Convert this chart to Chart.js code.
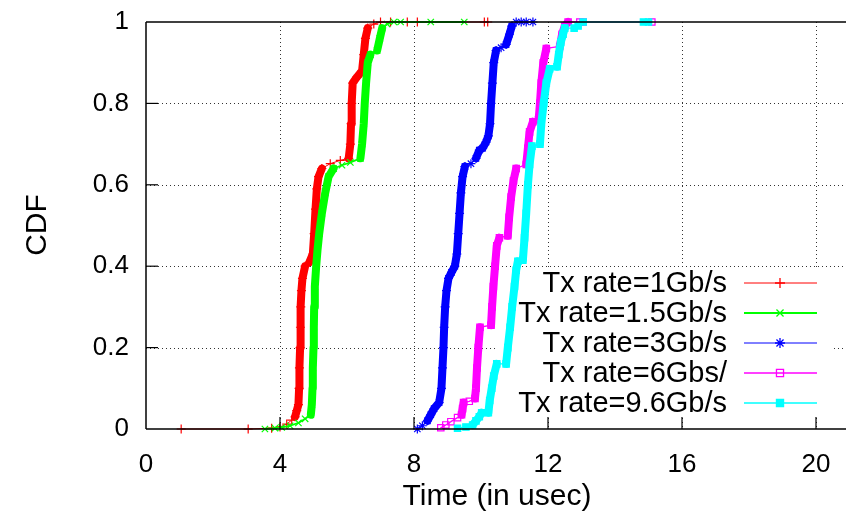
<!DOCTYPE html>
<html><head><meta charset="utf-8">
<script src="https://cdn.jsdelivr.net/npm/chart.js@4.4.0/dist/chart.umd.min.js"></script>
<style>html,body{margin:0;padding:0;overflow:hidden;background:#fff}canvas{display:block}</style>
</head><body>
<canvas id="c" width="860" height="517"></canvas>
<script>
const xTickValues = [0, 4, 8, 12, 16, 20];
const yTickValues = [0, 0.2, 0.4, 0.6, 0.8, 1];
const yTickLabels = ['0', '0.2', '0.4', '0.6', '0.8', '1'];
const seriesNames = ['Tx rate=1Gb/s', 'Tx rate=1.5Gb/s', 'Tx rate=3Gb/s', 'Tx rate=6Gbs/', 'Tx rate=9.6Gb/s'];

const rate1 = [[1.05,0],[3.05,0],[3.75,0.002],[4.0,0.005],[4.2,0.012],[4.35,0.022],[4.45,0.03],[4.5,0.045],[4.55,0.06],[4.57,0.1],[4.58,0.15],[4.6,0.2],[4.61,0.25],[4.62,0.3],[4.64,0.34],[4.67,0.37],[4.75,0.4],[4.88,0.41],[4.98,0.43],[5.02,0.48],[5.06,0.54],[5.1,0.59],[5.15,0.62],[5.25,0.64],[5.5,0.652],[5.8,0.66],[6.05,0.665],[6.1,0.7],[6.12,0.75],[6.14,0.8],[6.17,0.85],[6.3,0.865],[6.45,0.88],[6.5,0.92],[6.55,0.96],[6.62,0.985],[6.8,0.995],[7.0,1],[7.3,1],[7.8,1],[8.1,1],[10.1,1],[10.2,1]];
const rate15 = [[3.55,0],[3.85,0.002],[4.05,0.004],[4.3,0.008],[4.55,0.015],[4.75,0.025],[4.92,0.035],[4.95,0.06],[4.97,0.1],[4.98,0.15],[5.0,0.2],[5.01,0.25],[5.02,0.3],[5.04,0.35],[5.08,0.4],[5.12,0.44],[5.17,0.48],[5.25,0.53],[5.35,0.58],[5.45,0.62],[5.6,0.64],[5.85,0.648],[6.1,0.655],[6.4,0.665],[6.45,0.7],[6.5,0.75],[6.53,0.8],[6.57,0.85],[6.62,0.9],[6.7,0.92],[6.9,0.93],[6.98,0.96],[7.05,0.985],[7.2,0.995],[7.4,1],[7.6,1],[8.5,1],[9.5,1]];
const rate3 = [[8.1,0],[8.25,0.008],[8.4,0.02],[8.5,0.035],[8.6,0.05],[8.75,0.065],[8.82,0.1],[8.85,0.15],[8.88,0.2],[8.9,0.25],[8.93,0.3],[8.97,0.34],[9.03,0.37],[9.12,0.385],[9.22,0.4],[9.28,0.43],[9.32,0.48],[9.36,0.53],[9.4,0.58],[9.45,0.62],[9.52,0.645],[9.7,0.652],[9.85,0.665],[9.95,0.685],[10.05,0.69],[10.15,0.705],[10.22,0.72],[10.27,0.75],[10.3,0.8],[10.34,0.85],[10.38,0.9],[10.45,0.93],[10.6,0.937],[10.75,0.945],[10.85,0.97],[10.92,0.99],[11.05,1],[11.2,1],[11.35,1],[11.55,1]];
const rate6 = [[8.8,0.003],[8.95,0.01],[9.1,0.018],[9.3,0.028],[9.42,0.035],[9.45,0.05],[9.48,0.065],[9.65,0.068],[9.82,0.075],[9.85,0.1],[9.88,0.15],[9.92,0.2],[9.97,0.25],[10.3,0.255],[10.33,0.3],[10.37,0.35],[10.42,0.4],[10.47,0.45],[10.55,0.47],[10.8,0.475],[10.84,0.52],[10.9,0.57],[10.97,0.61],[11.05,0.64],[11.35,0.65],[11.4,0.69],[11.45,0.73],[11.55,0.755],[11.72,0.76],[11.76,0.8],[11.8,0.85],[11.86,0.9],[11.95,0.935],[12.35,0.94],[12.42,0.97],[12.5,0.99],[12.6,1],[12.95,1],[13.05,1],[15.1,1]];
const rate96 = [[9.3,0.002],[9.55,0.005],[9.75,0.01],[9.85,0.02],[9.95,0.03],[10.02,0.04],[10.22,0.04],[10.26,0.07],[10.32,0.1],[10.38,0.13],[10.47,0.16],[10.75,0.16],[10.8,0.2],[10.87,0.25],[10.93,0.3],[11.0,0.35],[11.05,0.39],[11.1,0.412],[11.25,0.415],[11.3,0.47],[11.35,0.53],[11.4,0.6],[11.45,0.65],[11.52,0.695],[11.76,0.7],[11.8,0.75],[11.87,0.8],[11.95,0.85],[12.05,0.885],[12.27,0.89],[12.32,0.92],[12.38,0.95],[12.45,0.97],[12.5,0.985],[12.78,0.985],[12.9,0.99],[13.05,1],[14.85,1],[15.0,1]];

const seriesData = [rate1, rate15, rate3, rate6, rate96];
const colors = ['#ff0000', '#00ff00', '#0000ff', '#ff00ff', '#00ffff'];
const styles = [
  {pointStyle:'cross', fill:false, lw:1, r:4.5},
  {pointStyle:'crossRot', fill:false, lw:1.8, r:4.5},
  {pointStyle:'star', fill:false, lw:1, r:4.5},
  {pointStyle:'rect', fill:false, lw:1.3, r:4.5},
  {pointStyle:'rect', fill:true, lw:1.3, r:4.5}
];
const FONT = '"Liberation Sans", Arial, Helvetica, sans-serif';

function steep(ctx) {
  const dx = Math.abs(ctx.p1.x - ctx.p0.x), dy = Math.abs(ctx.p1.y - ctx.p0.y);
  return dy > 1.2 * dx && dy > 3;
}

const datasets = seriesData.map((pts, i) => ({
  label: seriesNames[i],
  data: pts.map(p => ({x: p[0], y: p[1]})),
  borderColor: colors[i],
  backgroundColor: styles[i].fill ? colors[i] : 'rgba(0,0,0,0)',
  pointBackgroundColor: styles[i].fill ? colors[i] : 'rgba(0,0,0,0)',
  pointBorderColor: colors[i],
  pointStyle: styles[i].pointStyle,
  pointRadius: styles[i].r,
  pointBorderWidth: 1.2,
  borderWidth: styles[i].lw,
  borderCapStyle: 'round',
  borderJoinStyle: 'round',
  segment: { borderWidth: c => steep(c) ? 8 : styles[i].lw },
  tension: 0,
  fill: false,
  clip: false,
  order: 5 - i
}));

function line(ctx, x1, y1, x2, y2) { ctx.beginPath(); ctx.moveTo(x1, y1); ctx.lineTo(x2, y2); ctx.stroke(); }

const decor = {
  id: 'decor',
  beforeDatasetsDraw(chart) {
    const {ctx, chartArea: a, scales: {x, y}} = chart;
    ctx.save();
    ctx.strokeStyle = '#333'; ctx.lineWidth = 1; ctx.setLineDash([1, 3]);
    xTickValues.forEach(v => { if (v === 0) return; const px = Math.round(x.getPixelForValue(v)) + 0.5; line(ctx, px, a.top, px, a.bottom); });
    yTickValues.forEach(v => { if (v === 0 || v === 1) return; const py = Math.round(y.getPixelForValue(v)) + 0.5; line(ctx, a.left, py, a.right, py); });
    ctx.setLineDash([]);
    ctx.fillStyle = '#fff';
    ctx.fillRect(498, 270, 336, 147);
    ctx.restore();
  },
  afterDatasetsDraw(chart) {
    const {ctx, chartArea: a, scales: {x, y}} = chart;
    ctx.save();
    ctx.strokeStyle = '#000'; ctx.lineWidth = 1.5;
    line(ctx, a.left, a.top, a.left, a.bottom);
    line(ctx, a.left, a.bottom, a.right, a.bottom);
    line(ctx, a.left, a.top, a.right, a.top);
    ctx.lineWidth = 1.2;
    xTickValues.forEach(v => { if (v === 0) return; const px = x.getPixelForValue(v); line(ctx, px, a.bottom, px, a.bottom - 12); });
    yTickValues.forEach(v => { if (v === 0 || v === 1) return; const py = y.getPixelForValue(v); line(ctx, a.left, py, a.left + 12, py); });
    // legend
    const rows = [283, 313, 343, 373, 403];
    ctx.font = '29px ' + FONT;
    ctx.textAlign = 'right'; ctx.textBaseline = 'middle';
    seriesNames.forEach((n, i) => {
      const yy = rows[i];
      ctx.fillStyle = '#000';
      ctx.fillText(n, 727, yy + 1);
      ctx.strokeStyle = colors[i]; ctx.lineWidth = styles[i].lw;
      line(ctx, 744, yy, 817, yy);
      ctx.fillStyle = styles[i].fill ? colors[i] : 'rgba(0,0,0,0)';
      ctx.lineWidth = 1.3;
      Chart.helpers.drawPoint(ctx, {pointStyle: styles[i].pointStyle, radius: 5, rotation: 0, borderWidth: 1.3}, 780, yy);
    });
    // axis titles
    ctx.fillStyle = '#000';
    ctx.font = '30px ' + FONT;
    ctx.textAlign = 'center'; ctx.textBaseline = 'alphabetic';
    ctx.fillText('Time (in usec)', 497, 505);
    ctx.save();
    ctx.translate(46, 225); ctx.rotate(-Math.PI / 2);
    ctx.fillText('CDF', 0, 0);
    ctx.restore();
    ctx.restore();
  }
};

new Chart(document.getElementById('c'), {
  type: 'line',
  data: { datasets },
  options: {
    responsive: false,
    animation: false,
    events: [],
    layout: { padding: { top: 22, right: 10.5, bottom: 0, left: 0 } },
    plugins: { legend: { display: false }, tooltip: { enabled: false } },
    scales: {
      x: {
        type: 'linear', min: 0, max: 21,
        afterBuildTicks: s => { s.ticks = xTickValues.map(v => ({value: v})); },
        afterFit: s => { s.height = 88; s.paddingLeft = 0; s.paddingRight = 0; },
        grid: { display: false, drawTicks: false },
        border: { display: false },
        ticks: { font: { family: FONT, size: 26 }, color: '#000', padding: 20, maxRotation: 0, autoSkip: false, callback: v => String(v) }
      },
      y: {
        type: 'linear', min: 0, max: 1,
        afterBuildTicks: s => { s.ticks = yTickValues.map(v => ({value: v})); },
        afterFit: s => { s.width = 146; s.paddingTop = 0; s.paddingBottom = 0; },
        grid: { display: false, drawTicks: false },
        border: { display: false },
        ticks: { font: { family: FONT, size: 26 }, color: '#000', padding: 17, autoSkip: false, callback: (v, i) => yTickLabels[i] }
      }
    }
  },
  plugins: [decor]
});
</script>
</body></html>
